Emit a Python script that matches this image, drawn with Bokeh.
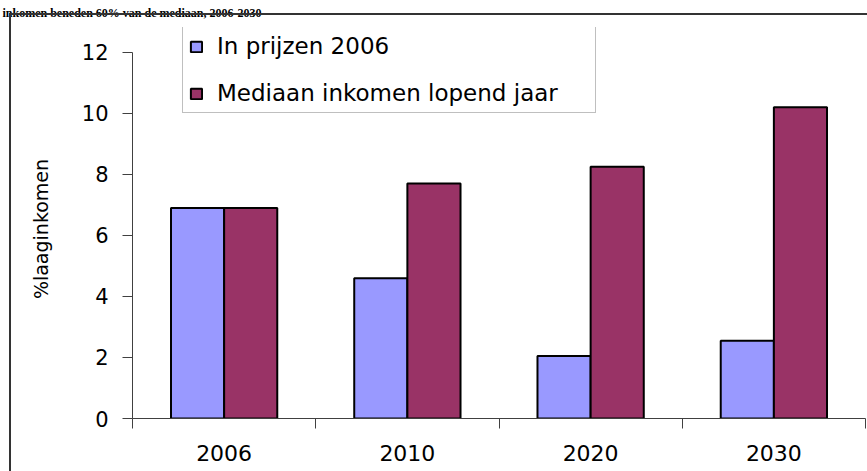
import numpy as np
from bokeh.plotting import figure
from bokeh.models import (ColumnDataSource, Range1d, FixedTicker, Legend, LegendItem)
from bokeh.transform import dodge
from bokeh.embed import file_html
from bokeh.resources import INLINE

# ---- data ----
years = ["2006", "2010", "2020", "2030"]
prijzen_2006 = [6.9, 4.6, 2.05, 2.55]
mediaan_lopend = [6.9, 7.7, 8.25, 10.2]
y_ticks = [0, 2, 4, 6, 8, 10, 12]
series_names = ["In prijzen 2006", "Mediaan inkomen lopend jaar"]
y_label = "%laaginkomen"
title_text = "inkomen beneden 60% van de mediaan, 2006-2030"

centers = [int(c) for c in np.arange(1, len(years) + 1)]
bounds = [c - 0.5 for c in centers] + [centers[-1] + 0.5]

src = ColumnDataSource(dict(x=centers, a=prijzen_2006, b=mediaan_lopend))

# frame: top at 25px, value 12 at 50px, value 0 at 418px
FRAME_TOP = 25
Y_TOP = 12 * (418 - FRAME_TOP) / (418 - 50)

p = figure(width=867, height=471, output_backend="svg", toolbar_location=None,
           x_range=Range1d(0.5, len(years) + 0.5), y_range=Range1d(0, Y_TOP),
           min_border_left=132, min_border_right=2, min_border_top=FRAME_TOP,
           min_border_bottom=53)
p.xgrid.visible = False
p.ygrid.visible = False
p.outline_line_color = None
p.background_fill_color = "white"
p.border_fill_color = "white"

r1 = p.vbar(x=dodge("x", -0.145, range=p.x_range), top="a", width=0.29, source=src,
            fill_color="#9999FF", line_color="black", line_width=2)
r2 = p.vbar(x=dodge("x", 0.145, range=p.x_range), top="b", width=0.29, source=src,
            fill_color="#993366", line_color="black", line_width=2)

FONT = "DejaVu Sans"
AX = "#404040"

# y axis
ya = p.yaxis[0]
ya.ticker = FixedTicker(ticks=y_ticks, minor_ticks=[])
ya.bounds = (0, 12)
ya.major_tick_out = 10
ya.major_tick_in = 0
ya.minor_tick_out = 0
ya.minor_tick_in = 0
ya.axis_line_color = AX
ya.major_tick_line_color = AX
ya.major_label_text_font = FONT
ya.major_label_text_font_size = "21px"
ya.major_label_text_color = "black"
ya.major_label_standoff = 14
ya.axis_label = y_label + "\u00a0\u00a0"
ya.axis_label_text_font = FONT
ya.axis_label_text_font_size = "19px"
ya.axis_label_text_font_style = "normal"
ya.axis_label_text_color = "black"
ya.axis_label_standoff = 27

# x axis
xa = p.xaxis[0]
xa.ticker = FixedTicker(ticks=centers, minor_ticks=bounds)
xa.major_label_overrides = {c: y for c, y in zip(centers, years)}
xa.major_tick_out = 0
xa.major_tick_in = 0
xa.major_tick_line_color = None
xa.minor_tick_out = 10
xa.minor_tick_in = 0
xa.minor_tick_line_color = AX
xa.axis_line_color = AX
xa.major_label_text_font = FONT
xa.major_label_text_font_size = "22px"
xa.major_label_text_color = "black"
xa.major_label_standoff = 16

legend = Legend(items=[LegendItem(label=series_names[0], renderers=[r1]),
                       LegendItem(label=series_names[1], renderers=[r2])],
                location=(50, 305), orientation="vertical",
                border_line_color="#808080", border_line_width=1,
                background_fill_color="white", background_fill_alpha=1,
                padding=6, spacing=21, glyph_width=14, glyph_height=13,
                label_standoff=14, label_width=372, margin=0,
                label_text_font=FONT, label_text_font_size="23px", label_text_color="black")
p.add_layout(legend, "center")

# cut-off caption at the very top of the original picture
p.title.text = title_text
p.title.text_font = "Liberation Serif"
p.title.text_font_style = "bold"
p.title.text_font_size = "12px"
p.title.text_color = "black"
p.title.offset = -130
p.title.standoff = 11
p.title.vertical_align = "top"

# outer frame of the original picture (only its left and top edges are visible)
p.stylesheets = [":host { position: relative; }"
                 ":host::after { content: ''; position: absolute; left: 9px; top: 13px;"
                 " right: 0; bottom: 0; border-left: 2px solid #333; border-top: 2px solid #333;"
                 " pointer-events: none; }"]

open("out.html", "w").write(file_html(p, INLINE))
